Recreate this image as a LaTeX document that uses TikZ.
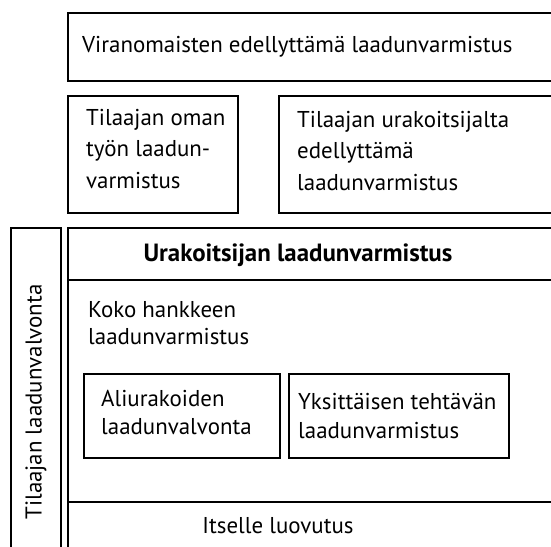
\documentclass[tikz,border=0pt]{standalone}
\usepackage{fontspec}
\setmainfont{PT Sans}
\begin{document}
\begin{tikzpicture}[x=1bp,y=-1bp,
  box/.style={draw=black,line width=1.3bp},
  txt/.style={anchor=west,inner sep=0pt,font=\fontsize{23}{27}\selectfont},
  ctxt/.style={anchor=center,inner sep=0pt,font=\fontsize{23}{27}\selectfont}]
\useasboundingbox (0,0) rectangle (551,547);
\clip (0,0) rectangle (551,547);
% boxes
\draw[box] (68,13) rectangle (570,81);
\draw[box] (68,96) rectangle (238,213);
\draw[box] (279,96) rectangle (570,213);
\draw[box] (11,228) rectangle (61,570);
\draw[box] (68,228) rectangle (570,570);
\draw[box] (68,280) -- (570,280);
\draw[box] (68,502) -- (570,502);
\draw[box] (84,374) rectangle (280,458);
\draw[box] (289,374) rectangle (509,458);
% texts
\node[txt] (vir) at (82,47) {Viranomaisten edellyttämä laadunvarmistus};
\node[txt] (oma1) at (86,120) {Tilaajan oman};
\node[txt] (oma2) at (86,151) {työn laadun-};
\node[txt] (oma3) at (86,181) {varmistus};
\node[txt] (ura1) at (297,122) {Tilaajan urakoitsijalta};
\node[txt] (ura2) at (297,153) {edellyttämä};
\node[txt] (ura3) at (297,183) {laadunvarmistus};
\node[ctxt,font=\fontsize{25}{29}\selectfont\bfseries] (urak) at (298,255) {Urakoitsijan laadunvarmistus};
\node[txt] (koko1) at (88,310) {Koko hankkeen};
\node[txt] (koko2) at (88,337) {laadunvarmistus};
\node[txt] (ali1) at (101,398) {Aliurakoiden};
\node[txt] (ali2) at (101,427) {laadunvalvonta};
\node[txt] (yks1) at (298,402) {Yksittäisen tehtävän};
\node[txt] (yks2) at (298,431) {laadunvarmistus};
\node[ctxt] (its) at (278,526) {Itselle luovutus};
\node[ctxt,rotate=90] (tlv) at (36,402) {Tilaajan laadunvalvonta};
\end{tikzpicture}
\end{document}
